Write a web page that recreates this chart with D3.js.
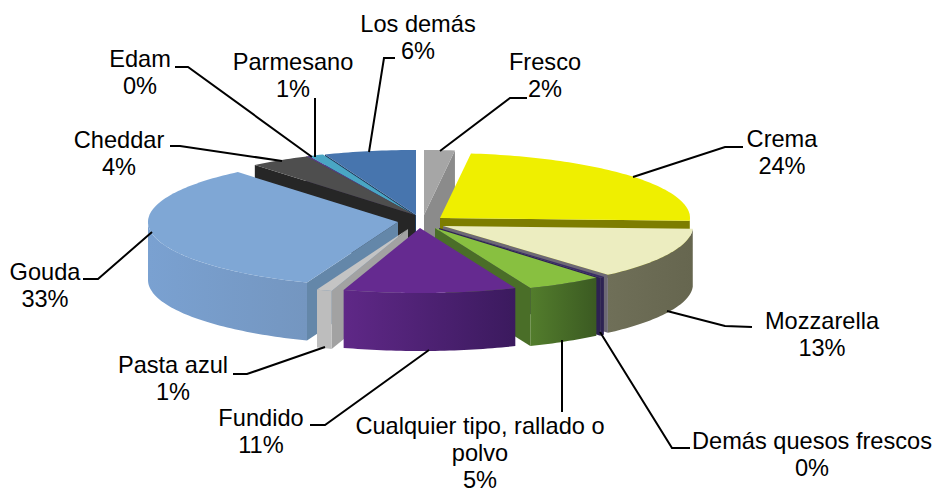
<!DOCTYPE html>
<html>
<head>
<meta charset="utf-8">
<script src="https://cdn.jsdelivr.net/npm/d3@7"></script>
<style>
  html, body { margin: 0; padding: 0; background: #fff; }
  svg { display: block; }
  text { font-family: "Liberation Sans", Arial, sans-serif; font-size: 23.6px; fill: #000; text-anchor: middle; }
  .leader { fill: none; stroke: #000; stroke-width: 2; }
</style>
</head>
<body>
<svg id="chart" width="939" height="493"></svg>
<script>
// chart values
const categories = ["Fresco", "Crema", "Mozzarella", "Demás quesos frescos", "Cualquier tipo, rallado o polvo",
  "Fundido", "Pasta azul", "Gouda", "Cheddar", "Edam", "Parmesano", "Los demás"];
const shares = [2, 24, 13, 0.3, 5, 11.3, 1, 33.4, 4, 0.2, 1, 6];

// colours per slice: top, wall left, wall right, cut face
const topColors = ["#a6a6a6", "#efef00", "#ecedc0", "#3a2c66", "#88c040", "#652a90", "#c4c4c4", "#7fa7d5", "#4e4e4e", "#5a3a8a", "#4aa6c4", "#4775ae"];
const wallStart = ["#9a9a9a", "#8f8f00", "#6f6f58", "#2d2252", "#537d2c", "#5f2887", "#bdbdbd", "#7aa1d1", "#3a3a3a", "#40286a", "#2f7c98", "#3c6699"];
const wallEnd = ["#9a9a9a", "#8f8f00", "#66664f", "#2d2252", "#3b5a22", "#3b1a5e", "#bdbdbd", "#7496c0", "#3a3a3a", "#40286a", "#2f7c98", "#3c6699"];
const faceColors = ["#8b8b8b", "#7d7d00", "#6d6875", "#2d2252", "#4a6e28", "#4a2070", "#a2a2a2", "#6487a9", "#262626", "#33204f", "#1c4a6c", "#1f3c5e"];

// where each exploded slice has its tip
const tipX = [424, 440, 443, 439, 435, 420, 408, 398, 415, 414, 414, 416];
const tipY = [215, 218, 226, 228, 228, 228, 229, 222, 215, 215, 215, 215];
const drawOrder = [11, 10, 9, 8, 7, 6, 0, 1, 2, 3, 4, 5];

const radiusX = 250, radiusY = 65, depth = 58;

// label lines and leader lines
const labelX = [545, 782, 822, 812, 480, 261, 173, 45, 119, 140, 293, 418];
const labelY = [62, 139, 321, 441, 426, 418, 365, 272, 140, 59, 62, 24];
const labelWrap = { 4: ["Cualquier tipo, rallado o", "polvo"] };
const leaders = [
  [[527, 98], [510, 98], [440, 151]],
  [[743, 147], [725, 147], [633, 177]],
  [[752, 327], [725, 326], [667, 311]],
  [[690, 448], [672, 448], [600, 332]],
  [[562, 412], [562, 340]],
  [[310, 425], [325, 425], [429, 350]],
  [[233, 374], [247, 374], [325, 347]],
  [[83, 279], [98, 279], [152, 232]],
  [[170, 146], [180, 146], [282, 161]],
  [[175, 67], [188, 67], [312, 157]],
  [[315, 98], [315, 157]],
  [[395, 58], [384, 58], [369, 152]]
];

const svg = d3.select("#chart");
const defs = svg.append("defs");
const line = d3.line();
const percent = d3.format(".0%");
const total = d3.sum(shares);

const slices = d3.pie().sort(null).startAngle(0).endAngle(2 * Math.PI)(shares);

// pie angle runs clockwise from the top, squashed into an ellipse
function rim(i, a, drop) {
  return [tipX[i] + radiusX * Math.sin(a), tipY[i] - radiusY * Math.cos(a) + (drop || 0)];
}
function arcPoints(i, a0, a1, drop) {
  const n = Math.max(2, Math.ceil((a1 - a0) / 0.02));
  return d3.range(n + 1).map(k => rim(i, a0 + (a1 - a0) * k / n, drop));
}

function drawFace(g, i, a) {
  g.append("path")
    .attr("fill", faceColors[i])
    .attr("d", line([[tipX[i], tipY[i]], rim(i, a), rim(i, a, depth), [tipX[i], tipY[i] + depth]]) + "Z");
}

drawOrder.forEach(i => {
  const s = slices[i];
  const g = svg.append("g").attr("class", "slice");

  // cut faces only show when they turn towards the viewer
  if (Math.sin(s.startAngle) < -0.001) drawFace(g, i, s.startAngle);
  if (Math.sin(s.endAngle) > 0.001) drawFace(g, i, s.endAngle);

  // outer wall, front half only
  const w0 = Math.max(s.startAngle, Math.PI / 2);
  const w1 = Math.min(s.endAngle, 3 * Math.PI / 2);
  if (w1 > w0) {
    const grad = defs.append("linearGradient")
      .attr("id", "wall" + i)
      .attr("gradientUnits", "userSpaceOnUse")
      .attr("x1", d3.min([rim(i, w0)[0], rim(i, w1)[0]]))
      .attr("x2", d3.max([rim(i, w0)[0], rim(i, w1)[0]]))
      .attr("y1", 0).attr("y2", 0);
    grad.append("stop").attr("offset", 0).attr("stop-color", wallStart[i]);
    grad.append("stop").attr("offset", 1).attr("stop-color", wallEnd[i]);
    g.append("path")
      .attr("fill", `url(#wall${i})`)
      .attr("d", line(arcPoints(i, w0, w1, 0).concat(arcPoints(i, w0, w1, depth).reverse())) + "Z");
  }

  // top
  g.append("path")
    .attr("fill", topColors[i])
    .attr("d", line([[tipX[i], tipY[i]]].concat(arcPoints(i, s.startAngle, s.endAngle, 0))) + "Z");
});

// leaders then labels
svg.selectAll(".leader").data(leaders).join("path")
  .attr("class", "leader")
  .attr("d", d => line(d));

categories.forEach((name, i) => {
  const lines = (labelWrap[i] || [name]).concat(percent(shares[i] / total));
  const t = svg.append("text").attr("x", labelX[i]).attr("y", labelY[i] + 8);
  lines.forEach((l, k) => {
    t.append("tspan").attr("x", labelX[i]).attr("dy", k ? 27 : 0).text(l);
  });
});
</script>
</body>
</html>
